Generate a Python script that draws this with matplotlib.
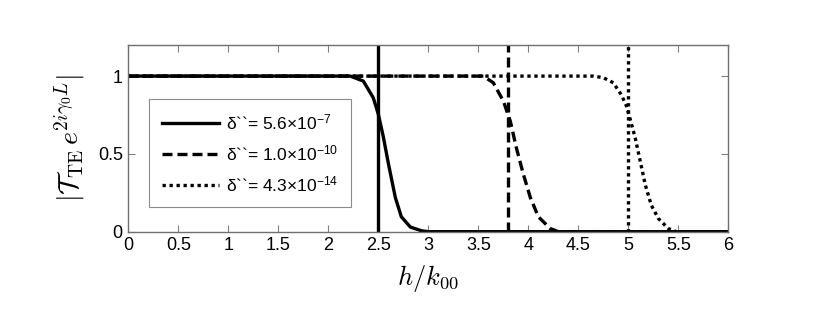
import matplotlib
matplotlib.use("Agg")
import matplotlib.pyplot as plt

# Data
x_solid = [0.0, 2.22, 2.35, 2.45, 2.50, 2.55, 2.60, 2.67, 2.73, 2.82, 2.93, 3.0, 6.0]
y_solid = [1.0, 1.0, 0.968, 0.86, 0.755, 0.61, 0.44, 0.22, 0.096, 0.03, 0.006, 0.0, 0.0]

x_dash = [0.0, 3.55, 3.65, 3.75, 3.82, 3.88, 3.95, 4.02, 4.10, 4.22, 4.30, 6.0]
y_dash = [1.0, 1.0, 0.957, 0.84, 0.71, 0.54, 0.37, 0.22, 0.096, 0.02, 0.0, 0.0]

x_dot = [0.0, 4.65, 4.75, 4.85, 4.93, 4.98, 5.02, 5.07, 5.12, 5.17, 5.23, 5.30, 5.40, 5.48, 6.0]
y_dot = [1.0, 1.0, 0.99, 0.957, 0.88, 0.81, 0.72, 0.60, 0.45, 0.30, 0.17, 0.085, 0.02, 0.0, 0.0]

vlines = [2.5, 3.8, 5.0]
labels = [r"δ``= 5.6×10$\mathregular{^{-7}}$",
          r"δ``= 1.0×10$\mathregular{^{-10}}$",
          r"δ``= 4.3×10$\mathregular{^{-14}}$"]
xticks = [0, 0.5, 1, 1.5, 2, 2.5, 3, 3.5, 4, 4.5, 5, 5.5, 6]
xticklabels = ["0", "0.5", "1", "1.5", "2", "2.5", "3", "3.5", "4", "4.5", "5", "5.5", "6"]
yticks = [0, 0.5, 1]
yticklabels = ["0", "0.5", "1"]

plt.rcParams['font.family'] = ['Liberation Sans', 'DejaVu Sans']
plt.rcParams['mathtext.fontset'] = 'cm'

fig = plt.figure(figsize=(8.3, 3.19), dpi=100)
ax = fig.add_axes([0.1546, 0.2737, 0.7229, 0.5853])

lw = 2.4
l1, = ax.plot(x_solid, y_solid, color='black', lw=lw, linestyle='-', label=labels[0])
l2, = ax.plot(x_dash, y_dash, color='black', lw=lw, linestyle=(0, (3.0, 1.5)), label=labels[1])
l3, = ax.plot(x_dot, y_dot, color='black', lw=lw, linestyle=(0, (1, 1.1)), label=labels[2])
ax.axvline(vlines[0], color='black', lw=lw, linestyle='-')
ax.axvline(vlines[1], color='black', lw=lw, linestyle=(0, (3.0, 1.5)))
ax.axvline(vlines[2], color='black', lw=lw, linestyle=(0, (1, 1.1)))

ax.set_xlim(0, 6)
ax.set_ylim(0, 1.2)
ax.set_xticks(xticks)
ax.set_xticklabels(xticklabels)
ax.set_yticks(yticks)
ax.set_yticklabels(yticklabels)
ax.tick_params(direction='in', top=True, right=True, length=5, width=0.8,
               color='#808080', labelsize=13, pad=4)
for s in ax.spines.values():
    s.set_color('#707070')
    s.set_linewidth(1.0)

ax.set_xlabel(r"$h/k_{00}$", fontsize=19, labelpad=6)
ax.set_ylabel(r"$|\mathcal{T}_{\rm TE}\, e^{2i\gamma_0 L}|$", fontsize=20, labelpad=8)

leg = ax.legend(handles=[l1, l2, l3], loc='lower left', bbox_to_anchor=(0.034, 0.13),
                fontsize=12.5, frameon=True, fancybox=False, handlelength=3.3,
                borderpad=0.75, labelspacing=0.65, handletextpad=0.4, borderaxespad=0)
leg.get_frame().set_edgecolor('#707070')
leg.get_frame().set_linewidth(0.8)

fig.savefig("out.png", dpi=100)
